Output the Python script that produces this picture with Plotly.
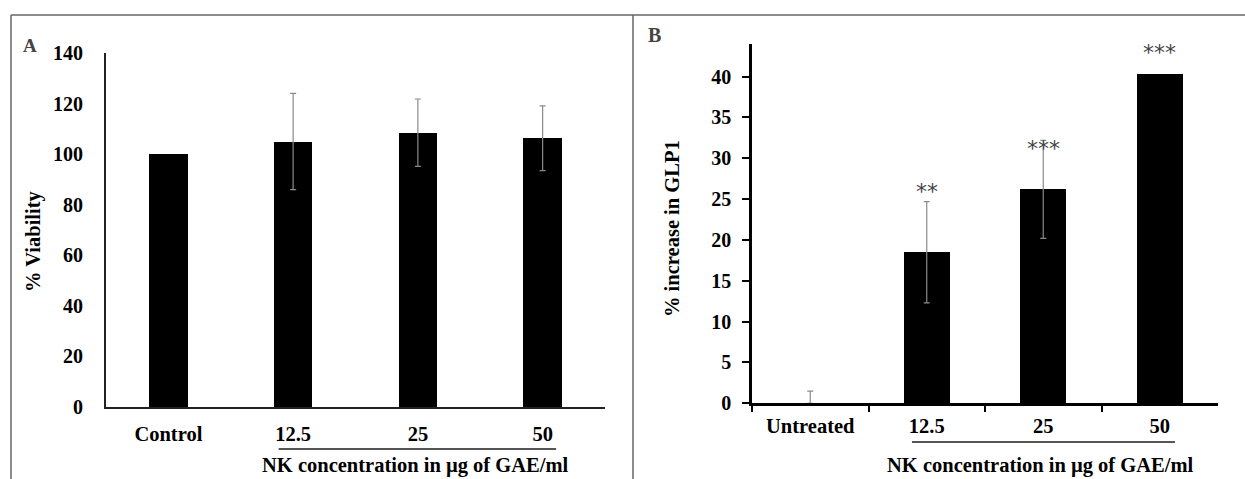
import plotly.graph_objects as go

# Panel A: cell viability
viability_cats = ["Control", "12.5", "25", "50"]
viability_mean = [100.0, 105.0, 108.5, 106.3]
viability_err = [None, 19.0, 13.3, 12.8]

# Panel B: GLP1 secretion
glp1_cats = ["Untreated", "12.5", "25", "50"]
glp1_mean = [0.0, 18.5, 26.2, 40.3]
glp1_err_up = [1.5, 6.2, 6.0, None]
glp1_err_down = [0.0, 6.2, 6.0, None]
glp1_signif = ["", "**", "***", "***"]

W, H = 1245, 479
SERIF = "Liberation Serif"
ERR_COLOR = "#8a8a8a"


def px_x(p):
    return p / W


def px_y(p):
    return 1 - p / H


def whiskers(cats, means, up, down, xa, ya):
    """Error bars only for the points that carry an error value."""
    keep = [i for i, e in enumerate(up) if e is not None]
    return go.Scatter(
        x=[cats[i] for i in keep], y=[means[i] for i in keep],
        xaxis=xa, yaxis=ya, mode="markers",
        marker=dict(size=1, color="rgba(0,0,0,0)"),
        error_y=dict(type="data", symmetric=False,
                     array=[up[i] for i in keep],
                     arrayminus=[down[i] for i in keep],
                     color=ERR_COLOR, thickness=1.2, width=3),
        showlegend=False, hoverinfo="skip",
    )


fig = go.Figure()

fig.add_trace(go.Bar(
    x=viability_cats, y=viability_mean, xaxis="x", yaxis="y",
    marker=dict(color="black", line=dict(width=0)), width=0.31,
    showlegend=False,
))
fig.add_trace(whiskers(viability_cats, viability_mean, viability_err,
                       viability_err, "x", "y"))

fig.add_trace(go.Bar(
    x=glp1_cats, y=glp1_mean, xaxis="x2", yaxis="y2",
    marker=dict(color="black", line=dict(width=0)), width=0.395,
    showlegend=False,
))
fig.add_trace(whiskers(glp1_cats, glp1_mean, glp1_err_up, glp1_err_down,
                       "x2", "y2"))

tick_font = dict(family=SERIF, size=20, color="black", weight="bold")
label_font = dict(family=SERIF, size=20.5, color="black", weight="bold")

fig.update_layout(
    template="none",
    width=W, height=H,
    margin=dict(l=0, r=0, t=0, b=0, pad=0, autoexpand=False),
    paper_bgcolor="white", plot_bgcolor="white",
    bargap=0,
    xaxis=dict(
        domain=[px_x(106), px_x(605)], anchor="y", type="category",
        range=[-0.5, 3.5], showline=True, linecolor="#222", linewidth=2,
        ticks="", showgrid=False, zeroline=False, automargin=False,
        tickfont=label_font, ticklabelstandoff=7,
    ),
    yaxis=dict(
        domain=[px_y(407), px_y(53)], anchor="x", range=[0, 140],
        tickvals=[0, 20, 40, 60, 80, 100, 120, 140],
        showline=True, linecolor="#222", linewidth=2, ticks="",
        showgrid=False, zeroline=False, tickfont=tick_font,
        ticklabelstandoff=17, automargin=False,
    ),
    xaxis2=dict(
        domain=[px_x(752), px_x(1218)], anchor="y2", type="category",
        range=[-0.5, 3.5], showline=True, linecolor="black", linewidth=2.5,
        ticks="outside", tickson="boundaries", ticklen=6, tickwidth=2,
        tickcolor="black", showgrid=False, zeroline=False, automargin=False,
        tickfont=label_font, ticklabelstandoff=2,
    ),
    yaxis2=dict(
        domain=[px_y(403.3), px_y(44)], anchor="x2", range=[0, 44],
        tickvals=[0, 5, 10, 15, 20, 25, 30, 35, 40],
        showline=True, linecolor="black", linewidth=2.5,
        ticks="outside", ticklen=7, tickwidth=2, tickcolor="black",
        showgrid=False, zeroline=False, tickfont=tick_font,
        ticklabelstandoff=7, automargin=False,
    ),
)

annotations = [
    dict(text="A", x=px_x(30), y=px_y(45), font=dict(family=SERIF, size=19, weight="bold")),
    dict(text="B", x=px_x(654), y=px_y(35), font=dict(family=SERIF, size=20, weight="bold")),
    dict(text="% Viability", x=px_x(33), y=px_y(241), textangle=-90, font=label_font),
    dict(text="% increase in GLP1", x=px_x(672), y=px_y(229), textangle=-90, font=label_font),
    dict(text="NK concentration in µg of GAE/ml", x=px_x(415), y=px_y(465), font=label_font),
    dict(text="NK concentration in µg of GAE/ml", x=px_x(1040), y=px_y(465), font=label_font),
]
for a in annotations:
    a.update(xref="paper", yref="paper", showarrow=False,
             xanchor="center", yanchor="middle")

# Significance marks above each treated bar (pixel lift above the whisker)
star_lift = [0, 10, -8, 22]
for i, (m, e, s) in enumerate(zip(glp1_mean, glp1_err_up, glp1_signif)):
    if not s:
        continue
    annotations.append(dict(
        text=s, x=i, y=m + (e or 0), xref="x2", yref="y2",
        showarrow=False, xanchor="center", yanchor="middle",
        yshift=star_lift[i],
        font=dict(family="DejaVu Sans", size=22, color="#444"),
    ))
fig.update_layout(annotations=annotations)

# Grouping rules under the concentration tick labels
line_style = dict(color="#555", width=2)
fig.add_shape(type="line", xref="x", yref="paper", x0=0.884, x1=3.108,
              y0=px_y(449), y1=px_y(449), line=line_style)
fig.add_shape(type="line", xref="x2", yref="paper", x0=0.873, x1=3.13,
              y0=px_y(442), y1=px_y(442), line=line_style)

# Outer frame and panel divider
frame = dict(color="#666", width=1.5)
fig.add_shape(type="line", xref="paper", yref="paper", x0=px_x(11), x1=1,
              y0=px_y(15), y1=px_y(15), line=frame)
fig.add_shape(type="line", xref="paper", yref="paper", x0=px_x(11), x1=px_x(11),
              y0=px_y(15), y1=0, line=frame)
fig.add_shape(type="line", xref="paper", yref="paper", x0=px_x(633), x1=px_x(633),
              y0=px_y(15), y1=0, line=frame)

fig.write_html("out.html")
